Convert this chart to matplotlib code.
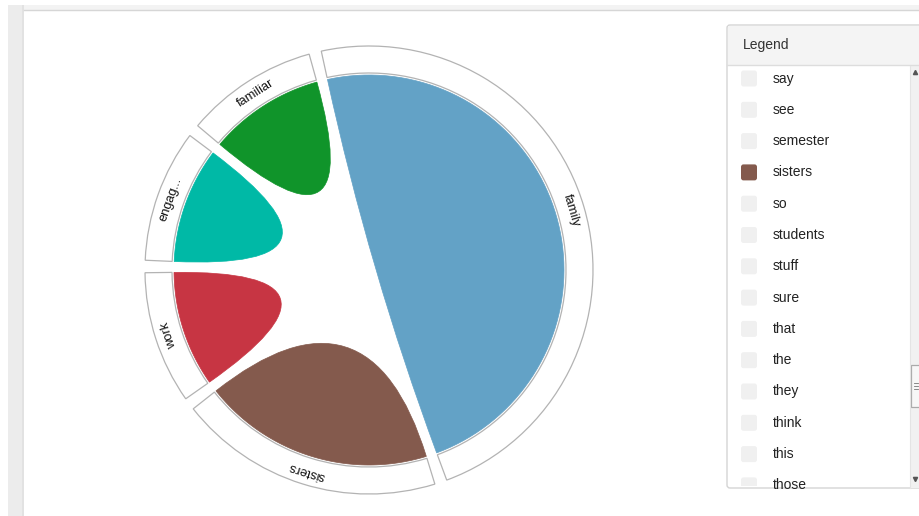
import numpy as np
import matplotlib
matplotlib.use("Agg")
import matplotlib.pyplot as plt
from matplotlib.path import Path
from matplotlib.patches import PathPatch, Rectangle, FancyBboxPatch, Wedge

plt.rcParams['font.family'] = ['Liberation Sans', 'DejaVu Sans']

# chord groups, clockwise from the top (self links only)
groups = ['family', 'sisters', 'work', 'engag...', 'familiar']
values = [5, 2, 1, 1, 1]
colors = ['#63a2c6', '#845a4d', '#c73543', '#00b9a6', '#10942a']

# part of the legend list that is visible in the scroll window
legend_items = ['say', 'see', 'semester', 'sisters', 'so', 'students', 'stuff',
                'sure', 'that', 'the', 'they', 'think', 'this', 'those']

W, H = 919, 516
fig = plt.figure(figsize=(W / 100, H / 100), dpi=100)
ax = fig.add_axes([0, 0, 1, 1])
ax.set_xlim(0, W)
ax.set_ylim(H, 0)
ax.axis('off')

# page chrome
ax.add_patch(Rectangle((8, 5), 14, H, fc='#ececec', ec='none'))
ax.add_patch(Rectangle((22, 5), 2, H, fc='#e2e2e2', ec='none'))
ax.add_patch(Rectangle((24, 5), W, 4.5, fc='#f3f3f3', ec='none'))
ax.plot([24, W], [9.5, 9.5], color='#d6d6d6', lw=1)

# chord diagram
cx, cy = 369, 270
r_out, r_in, r_chord = 224, 197, 195
start, pad = -12.3, 3.2
k = (360 - len(values) * pad) / sum(values)


def pt(theta, r):
    t = np.radians(theta)
    return cx + r * np.sin(t), cy - r * np.cos(t)


a = start
for name, v, c in zip(groups, values, colors):
    a0, a1 = a, a + v * k
    a = a1 + pad
    # label box
    ax.add_patch(Wedge((cx, cy), r_out, a0 - 90, a1 - 90, width=r_out - r_in,
                       fc='white', ec='#b3b3b3', lw=0.9))
    # self chord: arc, then quadratic curve through the centre
    th = np.linspace(a0, a1, 80)
    verts = [pt(t, r_chord) for t in th]
    codes = [Path.MOVETO] + [Path.LINETO] * (len(th) - 1)
    verts += [(cx, cy), pt(a0, r_chord), pt(a0, r_chord)]
    codes += [Path.CURVE3, Path.CURVE3, Path.CLOSEPOLY]
    ax.add_patch(PathPatch(Path(verts, codes), fc=c, ec=c, lw=0.5))
    mid = (a0 + a1) / 2
    tx, ty = pt(mid, (r_out + r_in) / 2)
    ax.text(tx, ty, name, rotation=-mid, ha='center', va='center',
            rotation_mode='anchor', fontsize=9.3, color='#111111')

# legend panel
lx, ly, lb = 727, 25, 488
ax.add_patch(FancyBboxPatch((lx, ly), W + 10 - lx, lb - ly,
                            boxstyle='round,pad=0,rounding_size=3',
                            fc='white', ec='#d4d4d4', lw=1))
ax.add_patch(Rectangle((lx + 0.5, ly + 0.5), W - lx, 40, fc='#f4f4f4', ec='none'))
ax.plot([lx, W], [65, 65], color='#dddddd', lw=1)
ax.text(743, 45, 'Legend', fontsize=10, va='center', color='#333333')

clip = Rectangle((lx, 66), 910 - lx, lb - 2 - 66, transform=ax.transData)
color_of = dict(zip(groups, colors))
for i, item in enumerate(legend_items):
    y = 78.5 + i * 31.3
    sw = FancyBboxPatch((741, y - 8), 16, 16,
                        boxstyle='round,pad=0,rounding_size=2.5',
                        fc=color_of.get(item, '#f0f0f0'), ec='none')
    ax.add_patch(sw)
    sw.set_clip_path(clip)
    t = ax.text(773, y, item, fontsize=10, va='center', color='#222222')
    t.set_clip_path(clip)

# scrollbar
ax.add_patch(Rectangle((910, 66), 10, lb - 66, fc='#f1f1f1', ec='none'))
ax.plot([910, 910], [66, lb], color='#e4e4e4', lw=0.8)
ax.plot([914.5], [72], marker='^', ms=3, color='#555555')
ax.plot([914.5], [479], marker='v', ms=3, color='#555555')
ax.add_patch(Rectangle((911, 365), 9, 42, fc='#f7f7f7', ec='#aaaaaa', lw=0.9))
for yy in (383, 386, 389):
    ax.plot([914, 918], [yy, yy], color='#777777', lw=0.6)

fig.savefig('out.png', dpi=100)
